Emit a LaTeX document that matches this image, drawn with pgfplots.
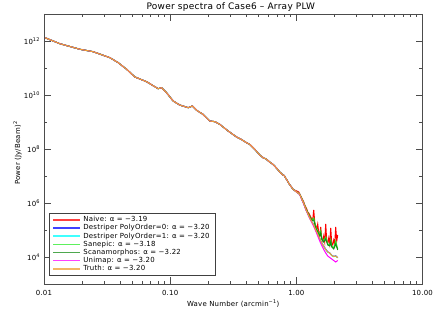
\documentclass[border=0pt]{standalone}
\usepackage{fontspec}
\setmainfont{DejaVu Sans}[LetterSpace=3]
\usepackage{pgfplots}
\usepackage{pgfplotstable}
\pgfplotsset{compat=1.18}

\definecolor{cnaive}{RGB}{255,0,0}
\definecolor{cdzero}{RGB}{0,0,255}
\definecolor{cdone}{RGB}{0,255,255}
\definecolor{csane}{RGB}{40,235,40}
\definecolor{cscan}{RGB}{20,140,20}
\definecolor{cuni}{RGB}{255,0,255}
\definecolor{ctruth}{RGB}{240,160,50}

% common part of all spectra (identical at low wave number)
\pgfplotstableread{
k p
0.0102 1.32e12
0.0134 7.9e11
0.0193 4.93e11
0.0245 4.02e11
0.0333 2.41e11
0.0388 1.57e11
0.0452 8.95e10
0.0526 4.64e10
0.0650 3.11e10
0.0803 1.71e10
0.0855 1.86e10
0.0936 1.22e10
0.1056 6.0e9
0.119 4.26e9
0.139 3.39e9
0.150 3.91e9
0.162 2.71e9
0.182 1.93e9
0.206 1.09e9
0.226 1.03e9
0.247 8.2e8
0.288 4.64e8
0.336 2.78e8
0.352 2.5e8
0.370 2.2e8
0.385 1.95e8
0.403 1.71e8
0.430 1.45e8
0.454 1.12e8
0.480 8.5e7
0.513 6.0e7
0.550 4.6e7
0.570 4.4e7
0.615 3.30e7
0.660 2.6e7
0.700 1.9e7
0.739 1.41e7
0.780 1.1e7
0.800 1.05e7
0.835 7.55e6
0.880 5.0e6
0.942 3.21e6
}\common

\pgfplotstableread{
k p
1.0447 2.56e6
1.0639 2.154e6
1.0834 1.82e6
1.1035 1.532e6
1.1238 1.29e6
1.1445 1.089e6
1.1655 8.43e5
1.1869 7.11e5
1.2090 5.99e5
1.2312 4.64e5
1.2538 4.26e5
1.2769 3.59e5
1.3003 3.03e5
1.3243 2.56e5
1.3486 2.35e5
1.3737 5.50e5
1.3989 1.98e5
1.4246 1.41e5
1.4508 1.09e5
1.4775 1.67e5
1.5049 7.74e4
1.5325 5.99e4
1.5607 1.29e5
1.5894 4.64e4
1.6186 3.91e4
1.6484 5.99e4
1.6790 3.59e4
1.7098 1.67e5
1.7413 3.91e4
1.7732 3.30e4
1.8058 5.05e4
1.8391 3.03e4
1.8732 1.19e5
1.9076 3.30e4
1.9427 2.78e4
1.9784 4.26e4
2.0148 3.03e4
2.0518 1.29e5
2.0898 3.91e4
2.1281 6.53e4
}\naivetail

\pgfplotstableread{
k p
1.0639 2.10e6
1.1035 1.41e6
1.1445 9.58e5
1.1869 6.0e5
1.2312 4.08e5
1.2769 2.78e5
1.3243 2.06e5
1.3737 1.53e5
1.4246 1.0e5
1.4775 7.11e4
1.5325 4.84e4
1.5894 3.30e4
1.6484 2.45e4
1.7098 1.90e4
1.7732 1.53e4
1.8391 1.41e4
1.9076 1.14e4
1.9784 1.04e4
2.0518 1.09e4
2.1281 9.4e3
}\truthtail

\pgfplotstableread{
k p
1.0639 2.10e6
1.1035 1.42e6
1.1445 9.6e5
1.1869 6.0e5
1.2312 4.1e5
1.2769 2.8e5
1.3243 2.07e5
1.3737 1.55e5
1.4246 1.01e5
1.4775 7.2e4
1.5325 4.9e4
1.5894 3.35e4
1.6484 2.5e4
1.7098 1.95e4
1.7732 1.55e4
1.8391 1.42e4
1.9076 1.16e4
1.9784 1.05e4
2.0518 1.10e4
2.1281 9.5e3
}\dzerotail

\pgfplotstableread{
k p
1.0639 2.10e6
1.1035 1.41e6
1.1445 9.55e5
1.1869 6.0e5
1.2312 4.05e5
1.2769 2.77e5
1.3243 2.05e5
1.3737 1.52e5
1.4246 1.0e5
1.4775 7.1e4
1.5325 4.8e4
1.5894 3.3e4
1.6484 2.44e4
1.7098 1.89e4
1.7732 1.52e4
1.8391 1.40e4
1.9076 1.13e4
1.9784 1.03e4
2.0518 1.08e4
2.1281 9.3e3
}\donetail

\pgfplotstableread{
k p
1.0639 2.154e6
1.1035 1.468e6
1.1445 1.0e6
1.1869 6.53e5
1.2312 4.45e5
1.2769 3.16e5
1.3243 2.35e5
1.3737 2.78e5
1.4246 1.29e5
1.4775 9.19e4
1.5325 6.53e4
1.5607 9.19e4
1.5894 5.05e4
1.6484 3.91e4
1.7098 5.50e4
1.7732 3.03e4
1.8391 2.78e4
1.8732 4.26e4
1.9076 2.56e4
1.9784 2.15e4
2.0518 3.91e4
2.1281 1.98e4
}\sanetail

\pgfplotstableread{
k p
1.0639 2.10e6
1.1035 1.41e6
1.1445 9.58e5
1.1869 6.26e5
1.2312 4.26e5
1.2769 3.03e5
1.3243 2.25e5
1.3737 2.35e5
1.4246 1.19e5
1.4775 8.43e4
1.5325 5.99e4
1.5607 7.74e4
1.5894 4.64e4
1.6484 3.59e4
1.7098 4.64e4
1.7732 2.78e4
1.8391 2.56e4
1.8732 3.59e4
1.9076 2.35e4
1.9784 1.98e4
2.0518 3.03e4
2.1281 1.82e4
}\scantail

\pgfplotstableread{
k p
1.0639 2.06e6
1.1035 1.35e6
1.1445 9.19e5
1.1869 5.75e5
1.2312 3.94e5
1.2769 2.68e5
1.3243 1.90e5
1.3737 1.35e5
1.4246 9.19e4
1.4775 5.99e4
1.5325 3.91e4
1.5894 2.67e4
1.6484 1.90e4
1.7098 1.41e4
1.7732 1.09e4
1.8391 9.58e3
1.9076 8.43e3
1.9784 7.42e3
2.0518 6.53e3
2.1281 7.42e3
}\unitail

\pgfplotstablevertcat{\naive}{\common}\pgfplotstablevertcat{\naive}{\naivetail}
\pgfplotstablevertcat{\dzero}{\common}\pgfplotstablevertcat{\dzero}{\dzerotail}
\pgfplotstablevertcat{\done}{\common}\pgfplotstablevertcat{\done}{\donetail}
\pgfplotstablevertcat{\sane}{\common}\pgfplotstablevertcat{\sane}{\sanetail}
\pgfplotstablevertcat{\scan}{\common}\pgfplotstablevertcat{\scan}{\scantail}
\pgfplotstablevertcat{\uni}{\common}\pgfplotstablevertcat{\uni}{\unitail}
\pgfplotstablevertcat{\truth}{\common}\pgfplotstablevertcat{\truth}{\truthtail}

\begin{document}
\begin{tikzpicture}
\path[use as bounding box] (-44bp,-28bp) rectangle (392bp,284bp);
\begin{axis}[
  at={(0,0)}, anchor=south west,
  scale only axis, width=378.5bp, height=270bp,
  xmode=log, ymode=log,
  xmin=0.01, xmax=10, ymin=1e3, ymax=1e13,
  axis line style={black!70, line width=0.6bp},
  every tick/.style={black!70, line width=0.5bp},
  tick align=inside,
  major tick length=7bp, minor tick length=3.5bp,
  xtick={0.01,0.1,1,10},
  xticklabels={0.01,0.10,1.00,10.00},
  ytick={1e4,1e6,1e8,1e10,1e12},
  yticklabels={10\textsuperscript{4},10\textsuperscript{6},10\textsuperscript{8},10\textsuperscript{10},10\textsuperscript{12}},
  minor ytick={1e3,1e5,1e7,1e9,1e11,1e13},
  /pgf/number format/assume math mode=true,
  tick label style={font=\fontsize{7}{8}\selectfont},
  xticklabel style={yshift=-3bp},
  yticklabel style={xshift=-0.5bp},
  every axis title shift=0pt,
  title={Power spectra of Case6 -- Array PLW},
  title style={at={(axis description cs:0.5,1)}, anchor=base, yshift=4bp, xshift=-2.5bp, font=\fontsize{9}{10}\selectfont},
  xlabel={Wave Number (arcmin\textsuperscript{−1})},
  xlabel style={at={(axis description cs:0.5,0)}, anchor=north, yshift=-12.5bp, font=\fontsize{7}{8}\selectfont},
  ylabel={Power (Jy/Beam)\textsuperscript{2}},
  ylabel style={at={(axis description cs:-0.07,0.485)}, anchor=center, font=\fontsize{7}{8}\selectfont},
  legend cell align=left,
  legend image post style={xscale=1.57, line width=1.6bp, opacity=0.75},
  legend style={at={(axis description cs:0.0132,0.0296)}, anchor=south west,
    draw=black!75, line width=1.2bp, fill=white,
    font=\fontsize{7}{8}\selectfont, inner xsep=3bp, inner ysep=2.5bp,
    row sep=0pt,
    nodes={inner ysep=0.5bp, inner xsep=2.5bp, text height=5.5bp, text depth=1.67bp}},
]
\addplot[color=cnaive, line width=1bp] table[x=k,y=p] {\naive};
\addlegendentry{Naive: α = −3.19}
\addplot[color=cdzero, line width=1bp] table[x=k,y=p] {\dzero};
\addlegendentry{Destriper PolyOrder=0: α = −3.20}
\addplot[color=cdone, line width=1bp] table[x=k,y=p] {\done};
\addlegendentry{Destriper PolyOrder=1: α = −3.20}
\addplot[color=csane, line width=1bp] table[x=k,y=p] {\sane};
\addlegendentry{Sanepic: α = −3.18}
\addplot[color=cscan, line width=1bp] table[x=k,y=p] {\scan};
\addlegendentry{Scanamorphos: α = −3.22}
\addplot[color=cuni, line width=1bp] table[x=k,y=p] {\uni};
\addlegendentry{Unimap: α = −3.20}
\addplot[color=ctruth, line width=1bp] table[x=k,y=p] {\truth};
\addlegendentry{Truth: α = −3.20}
\end{axis}
\end{tikzpicture}
\end{document}
